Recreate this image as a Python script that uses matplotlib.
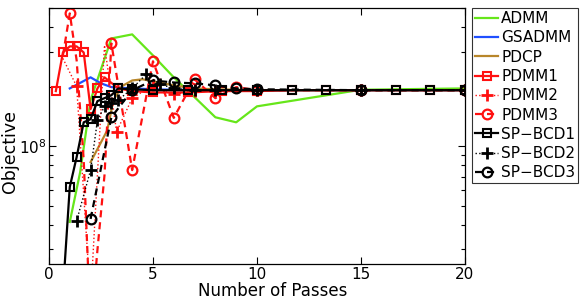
import matplotlib
matplotlib.use('Agg')
import matplotlib.pyplot as plt
from matplotlib.ticker import LogLocator, NullFormatter

UNIT = 1e8

admm_x = [1, 1.5, 2, 3, 4, 5, 6, 7, 8, 9, 10, 15, 20]
admm_y = [0.413, 0.739, 1.71, 3.51, 3.68, 2.88, 2.23, 1.77, 1.40, 1.32, 1.59, 1.93, 1.96]

gsadmm_x = [1, 2, 2.5, 3, 4, 5, 6, 8, 10, 15, 20]
gsadmm_y = [1.96, 2.23, 2.08, 1.99, 1.96, 1.94, 1.93, 1.92, 1.92, 1.92, 1.92]

pdcp_x = [2, 2.8, 3.1, 3.5, 4, 4.5, 5, 6, 7, 8, 10, 15, 20]
pdcp_y = [0.830, 1.20, 1.71, 2.01, 2.15, 2.18, 2.13, 2.03, 1.96, 1.94, 1.92, 1.92, 1.92]

pdmm1_x = [0.33, 0.67, 1, 1.33, 1.67, 2, 2.33, 2.67, 3.33, 4, 5, 6.67, 8.33,
           10, 11.67, 13.33, 15, 16.67, 18.33, 20]
pdmm1_y = [1.90, 2.98, 3.20, 3.20, 2.98, 1.54, 1.96, 2.23, 1.96, 1.90, 1.87, 1.87, 1.90,
           1.90, 1.92, 1.92, 1.92, 1.92, 1.92, 1.92]

pdmm2_x = [0.67, 1.33, 2, 2.67, 3.25, 4, 5, 6, 7, 8, 10, 15, 20]
pdmm2_y = [2.78, 2.01, 0.167, 3.24, 1.18, 1.75, 2.03, 1.83, 1.90, 1.90, 1.92, 1.92, 1.92]

pdmm3_x = [0.67, 1, 1.33, 1.67, 2, 2.33, 2.67, 3, 4, 5, 6, 7, 8, 9, 10, 15, 20]
pdmm3_y = [2.88, 4.70, 2.72, 0.850, 0.118, 0.298, 0.714, 3.31, 0.756, 2.69, 1.39, 2.18,
           1.75, 1.99, 1.92, 1.92, 1.92]

spbcd1_x = [0.67, 1, 1.33, 1.67, 2, 2.33, 2.67, 3, 3.33, 4, 5, 6.67, 8.33,
            10, 11.67, 13.33, 15, 16.67, 18.33, 20]
spbcd1_y = [0.183, 0.621, 0.880, 1.32, 1.37, 1.69, 1.75, 1.81, 1.96, 1.94, 1.92, 1.92, 1.92,
            1.92, 1.92, 1.92, 1.92, 1.92, 1.92, 1.92]

spbcd2_x = [1.33, 2, 2.33, 2.67, 3, 3.33, 4, 4.67, 5.33, 6, 7, 8, 10, 15, 20]
spbcd2_y = [0.418, 0.756, 1.35, 1.59, 1.65, 1.71, 1.96, 2.31, 2.06, 1.96, 1.92, 1.92,
            1.92, 1.92, 1.92]

spbcd3_x = [2, 3, 4, 5, 6, 7, 8, 9, 10, 15, 20]
spbcd3_y = [0.428, 1.40, 1.92, 2.15, 2.10, 2.08, 2.03, 1.96, 1.94, 1.92, 1.92]

GREEN = '#66e61a'
BLUE = '#1f4fff'
BROWN = '#b8862a'
RED = '#ff1010'
BLACK = '#000000'

DASHED = (0, (3.2, 2.2))


def main():
    fig = plt.figure(figsize=(5.81, 3.0), dpi=100)
    ax = fig.add_axes([0.0843, 0.12, 0.7160, 0.853])

    series = [
        ('ADMM', admm_x, admm_y,
         dict(color=GREEN, lw=1.6)),
        ('GSADMM', gsadmm_x, gsadmm_y,
         dict(color=BLUE, lw=1.6)),
        ('PDCP', pdcp_x, pdcp_y,
         dict(color=BROWN, lw=1.6)),
        ('PDMM1', pdmm1_x, pdmm1_y,
         dict(color=RED, lw=1.6, marker='s', ms=6, mfc='none', mew=1.5)),
        ('PDMM2', pdmm2_x, pdmm2_y,
         dict(color=RED, lw=1.0, ls=':', marker='+', ms=8, mew=2.0,
              markevery=[1] + list(range(4, len(pdmm2_x))))),
        ('PDMM3', pdmm3_x, pdmm3_y,
         dict(color=RED, lw=1.6, ls=DASHED, marker='o', ms=7, mfc='none', mew=1.6,
              markevery=[1, 4] + list(range(7, len(pdmm3_x))))),
        ('SP\u2212BCD1', spbcd1_x, spbcd1_y,
         dict(color=BLACK, lw=1.6, marker='s', ms=6, mfc='none', mew=1.5)),
        ('SP\u2212BCD2', spbcd2_x, spbcd2_y,
         dict(color=BLACK, lw=1.0, ls=':', marker='+', ms=8, mew=2.0)),
        ('SP\u2212BCD3', spbcd3_x, spbcd3_y,
         dict(color=BLACK, lw=1.6, ls=DASHED, marker='o', ms=7, mfc='none', mew=1.6)),
    ]
    for label, xs, ys, style in series:
        ax.plot(xs, [v * UNIT for v in ys], label=label, **style)

    ax.set_yscale('log')
    ax.set_xlim(0, 20)
    ax.set_ylim(2.53e7, 5.0e8)
    ax.set_xticks([0, 5, 10, 15, 20])
    ax.yaxis.set_major_locator(LogLocator(base=10))
    ax.yaxis.set_minor_locator(LogLocator(base=10, subs=range(2, 10)))
    ax.yaxis.set_minor_formatter(NullFormatter())
    ax.tick_params(which='both', direction='in', top=True, right=True,
                   labelsize=11, width=0.8, pad=2)
    ax.tick_params(which='major', length=5)
    ax.tick_params(which='minor', length=3)
    for spine in ax.spines.values():
        spine.set_linewidth(0.9)

    ax.set_xlabel('Number of Passes', fontsize=12)
    ax.set_ylabel('Objective', fontsize=12.5)
    ax.xaxis.set_label_coords(0.538, -0.070)
    ax.yaxis.set_label_coords(-0.073, 0.44)

    leg = ax.legend(loc='upper left', bbox_to_anchor=(1.017, 1.0), fontsize=11,
                    handlelength=1.5, handletextpad=0.2, labelspacing=0.28,
                    borderpad=0.2, borderaxespad=0.0, fancybox=False,
                    frameon=True, edgecolor='black')
    leg.get_frame().set_linewidth(0.8)

    fig.savefig('out.png', dpi=100)
    plt.close(fig)


if __name__ == '__main__':
    main()
